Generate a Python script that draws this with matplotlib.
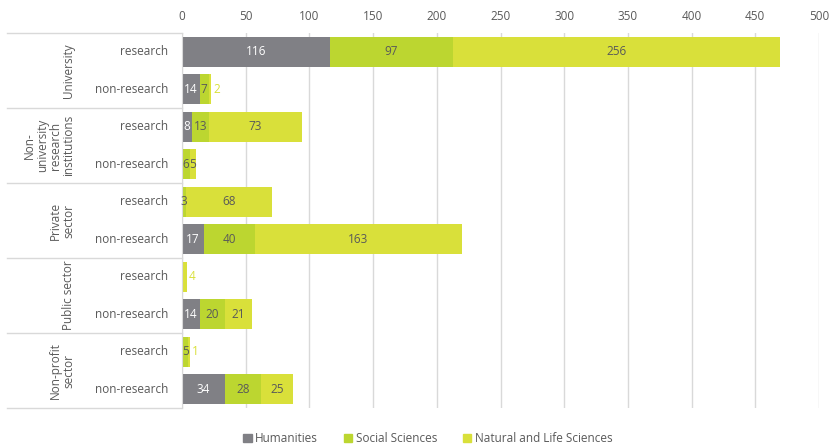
import matplotlib
matplotlib.use("Agg")
import matplotlib.pyplot as plt
from matplotlib.patches import Patch

plt.rcParams["font.family"] = ["Open Sans", "DejaVu Sans"]

GROUPS = ["University", "Non-\nuniversity\nresearch\ninstitutions",
          "Private\nsector", "Public sector", "Non-profit\nsector"]
SUBS = ["research", "non-research"]
SERIES = ["Humanities", "Social Sciences", "Natural and Life Sciences"]

humanities = [116, 14, 8, 0, 0, 17, 0, 14, 0, 34]
social = [97, 7, 13, 6, 3, 40, 0, 20, 5, 28]
natural = [256, 2, 73, 5, 68, 163, 4, 21, 1, 25]

COLORS = ["#808085", "#bcd630", "#d9e03a"]
TXT = "#595959"
GRID = "#d9d9d9"

W, H, dpi = 839, 445, 100
fig = plt.figure(figsize=(W / dpi, H / dpi), dpi=dpi)
ax = fig.add_axes([182 / W, 1 - 408 / H, 637 / W, 375 / H])

rows = list(range(len(humanities)))
left = [0] * len(rows)
label_cols = ["white", TXT, TXT]
for i, vals in enumerate([humanities, social, natural]):
    bars = ax.barh(rows, vals, left=left, height=0.8, color=COLORS[i], zorder=2)
    for r, (b, v) in enumerate(zip(bars, vals)):
        if v == 0:
            continue
        cx = left[r] + v / 2
        if i == 2 and v <= 4:
            ax.text(left[r] + v + 1.5, r, str(v), color=COLORS[2],
                    ha="left", va="center", fontsize=8.5)
        else:
            ax.text(cx, r, str(v), color=label_cols[i],
                    ha="center", va="center", fontsize=8.5)
    left = [a + b for a, b in zip(left, vals)]

ax.set_xlim(0, 500)
ax.set_ylim(9.5, -0.5)
ax.set_xticks(range(0, 501, 50))
ax.xaxis.tick_top()
ax.tick_params(axis="x", length=0, pad=7, labelcolor=TXT, labelsize=8.5)
ax.set_yticks([])
ax.grid(axis="x", color=GRID, linewidth=1, zorder=0)
for s in ["top", "right", "bottom"]:
    ax.spines[s].set_visible(False)
ax.spines["left"].set_color(GRID)

tr = ax.get_yaxis_transform()
for r in rows:
    ax.text(-0.022, r, SUBS[r % 2], transform=tr, ha="right", va="center",
            color=TXT, fontsize=8.5)
for g, name in enumerate(GROUPS):
    ax.text(-0.168, 2 * g + 0.5, name, transform=tr, rotation=90,
            ha="right", va="center", multialignment="center",
            color=TXT, fontsize=8.5, linespacing=1.0)
for y in [-0.5, 1.5, 3.5, 5.5, 7.5, 9.5]:
    ax.plot([-0.275, 0], [y, y], transform=tr, color=GRID, linewidth=1,
            clip_on=False)

handles = [Patch(color=c, label=s) for c, s in zip(COLORS, SERIES)]
leg = fig.legend(handles=handles, loc="lower center", bbox_to_anchor=(0.51, -0.024),
                 ncol=3, frameon=False, handlelength=0.7, handleheight=0.7,
                 handletextpad=0.3, columnspacing=2.2, fontsize=8.5)
for t in leg.get_texts():
    t.set_color(TXT)

fig.savefig("out.png", dpi=dpi)
